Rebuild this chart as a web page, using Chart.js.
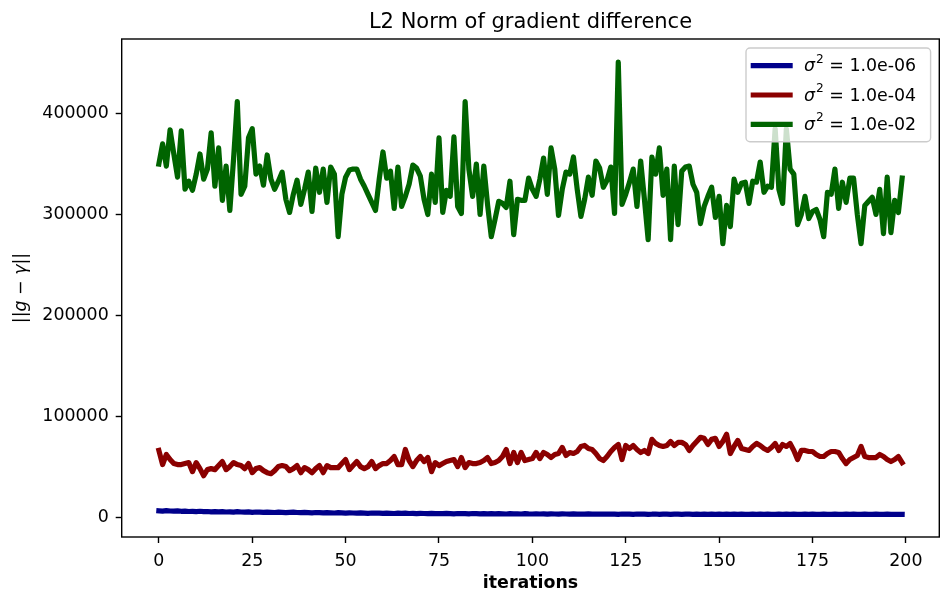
<!DOCTYPE html>
<html>
<head>
<meta charset="utf-8">
<script src="https://cdn.jsdelivr.net/npm/chart.js@4.4.1/dist/chart.umd.min.js"></script>
<style>
  html, body { margin: 0; padding: 0; background: #fff; }
  #wrap { width: 941px; height: 597px; }
</style>
</head>
<body>
<div id="wrap"><canvas id="grafica" width="941" height="597"></canvas></div>
<script>
// Datos (200 iteraciones, 0..199)
const titulo = 'L2 Norm of gradient difference';
const xTicks = [0, 25, 50, 75, 100, 125, 150, 175, 200];
const yTicks = [0, 100000, 200000, 300000, 400000];
const etiquetasLeyenda = ['1.0e-06', '1.0e-04', '1.0e-02'];

const sigma6 = [
    6200, 5900, 6400, 6000, 5800, 6100, 5700, 5900, 5500, 5600,
    5400, 5700, 5300, 5500, 5200, 5400, 5100, 5300, 5000, 5200,
    4900, 5300, 5000, 4800, 5100, 4700, 5000, 4800, 4600, 4900,
    4700, 4500, 4800, 4600, 4400, 4700, 4900, 4500, 4300, 4600,
    4400, 4200, 4500, 4300, 4100, 4400, 4200, 4000, 4300, 4100,
    3900, 4200, 4000, 3800, 4100, 3900, 3700, 4000, 3800, 3900,
    3600, 3900, 3700, 3500, 3800, 3600, 3800, 3500, 3700, 3400,
    3600, 3500, 3300, 3600, 3400, 3500, 3300, 3600, 3400, 3200,
    3500, 3300, 3400, 3200, 3500, 3300, 3100, 3400, 3200, 3300,
    3100, 3400, 3200, 3000, 3300, 3100, 3200, 3000, 3300, 3100,
    3000, 3200, 3000, 3100, 2900, 3200, 3000, 2900, 3100, 3000,
    2800, 3100, 2900, 3000, 2800, 3100, 2900, 2800, 3000, 2900,
    2800, 3000, 2900, 2700, 3000, 2800, 2900, 2700, 3000, 2800,
    2900, 2700, 2800, 3000, 2700, 2900, 2800, 2700, 2900, 2800,
    2700, 2900, 2800, 2600, 2900, 2700, 2800, 2600, 2900, 2700,
    2800, 2600, 2800, 2700, 2900, 2600, 2800, 2700, 2600, 2800,
    2700, 2900, 2600, 2800, 2700, 2600, 2800, 2700, 2900, 2600,
    2800, 2700, 2600, 2800, 2700, 2900, 2600, 2700, 2800, 2600,
    2700, 2800, 2600, 2700, 2900, 2600, 2800, 2700, 2600, 2800,
    2700, 2600, 2800, 2700, 2650, 2800, 2600, 2700, 2750, 2650
];

const sigma4 = [
    66000, 52000, 62000, 57000, 53000, 52000, 52000, 53000, 54000, 45000,
    54000, 48000, 41000, 47000, 48000, 47000, 51000, 55000, 47000, 50000,
    54000, 52000, 51000, 48000, 53000, 44000, 48000, 49000, 46000, 44000,
    43000, 46000, 50000, 51000, 50000, 46000, 48000, 51000, 44000, 49000,
    47000, 44000, 48000, 51000, 44000, 51000, 49000, 49000, 49000, 53000,
    57000, 47000, 51000, 55000, 50000, 48000, 50000, 55000, 48000, 51000,
    53000, 53000, 56000, 60000, 52000, 52000, 67000, 56000, 50000, 56000,
    60000, 55000, 59000, 45000, 54000, 51000, 53000, 55000, 56000, 57000,
    50000, 59000, 49000, 54000, 53000, 53000, 54000, 56000, 59000, 53000,
    54000, 56000, 60000, 67000, 53000, 64000, 54000, 64000, 56000, 57000,
    58000, 64000, 58000, 64000, 62000, 59000, 62000, 63000, 69000, 61000,
    64000, 63000, 65000, 70000, 71000, 68000, 67000, 63000, 58000, 56000,
    60000, 65000, 69000, 72000, 57000, 71000, 68000, 71000, 67000, 64000,
    66000, 63000, 77000, 73000, 71000, 70000, 71000, 75000, 71000, 74000,
    74000, 72000, 66000, 71000, 75000, 79000, 78000, 72000, 77000, 78000,
    70000, 75000, 82000, 63000, 70000, 76000, 68000, 67000, 66000, 70000,
    73000, 71000, 68000, 66000, 69000, 73000, 66000, 72000, 70000, 73000,
    66000, 57000, 66000, 66000, 65000, 65000, 62000, 60000, 60000, 63000,
    65000, 65000, 64000, 58000, 53000, 57000, 59000, 61000, 70000, 60000,
    59000, 59000, 59000, 62000, 60000, 57000, 55000, 57000, 60000, 54000
];

const sigma2 = [
    350000, 370000, 348000, 384000, 360000, 337000, 383000, 325000, 333000, 324000,
    340000, 360000, 335000, 345000, 381000, 328000, 366000, 314000, 348000, 304000,
    355000, 412000, 320000, 328000, 376000, 385000, 340000, 348000, 329000, 359000,
    335000, 325000, 333000, 342000, 315000, 302000, 320000, 334000, 310000, 325000,
    342000, 303000, 346000, 322000, 345000, 312000, 347000, 340000, 278000, 320000,
    337000, 344000, 345000, 345000, 335000, 328000, 320000, 312000, 304000, 335000,
    362000, 336000, 343000, 306000, 347000, 308000, 318000, 330000, 349000, 346000,
    338000, 315000, 300000, 340000, 312000, 376000, 302000, 324000, 318000, 377000,
    308000, 301000, 412000, 345000, 318000, 350000, 300000, 348000, 310000, 278000,
    295000, 313000, 311000, 307000, 333000, 280000, 315000, 314000, 314000, 336000,
    325000, 318000, 335000, 356000, 320000, 366000, 345000, 299000, 325000, 342000,
    340000, 357000, 325000, 298000, 315000, 337000, 319000, 353000, 346000, 327000,
    334000, 347000, 301000, 451000, 310000, 320000, 332000, 345000, 308000, 353000,
    315000, 275000, 357000, 340000, 366000, 319000, 345000, 275000, 348000, 290000,
    343000, 347000, 348000, 330000, 322000, 291000, 308000, 318000, 327000, 297000,
    318000, 271000, 309000, 288000, 335000, 322000, 331000, 332000, 311000, 333000,
    332000, 352000, 322000, 328000, 327000, 385000, 325000, 311000, 385000, 345000,
    340000, 290000, 300000, 318000, 296000, 303000, 305000, 295000, 278000, 322000,
    320000, 345000, 306000, 332000, 312000, 336000, 336000, 300000, 271000, 309000,
    313000, 317000, 300000, 325000, 281000, 337000, 282000, 314000, 302000, 336000
];

const iteraciones = Array.from({ length: sigma2.length }, (_, i) => i);

const colores = ['#00008b', '#8b0000', '#006400'];
const FUENTE = '"DejaVu Sans", sans-serif';

// Título, etiquetas de ejes, marco y leyenda al estilo matplotlib
const decorado = {
    id: 'decorado',
    afterDraw(chart) {
        const { ctx, chartArea: a } = chart;
        const cx = (a.left + a.right) / 2;
        ctx.save();

        // marco
        ctx.strokeStyle = '#000';
        ctx.lineWidth = 1.4;
        ctx.strokeRect(a.left, a.top, a.right - a.left, a.bottom - a.top);

        ctx.fillStyle = '#000';
        ctx.textAlign = 'center';
        ctx.textBaseline = 'alphabetic';
        ctx.font = '21px ' + FUENTE;
        ctx.fillText(titulo, cx, 28);

        ctx.font = 'bold 17.4px ' + FUENTE;
        ctx.fillText('iterations', cx, 588);

        // eje y: ||g − γ||
        const partes = [
            ['||', ''], ['g', 'italic '], [' \u2212 ', ''], ['\u03b3', 'italic '], ['||', '']
        ];
        let total = 0;
        partes.forEach(p => { ctx.font = p[1] + '17.4px ' + FUENTE; total += ctx.measureText(p[0]).width; });
        ctx.translate(26, (a.top + a.bottom) / 2);
        ctx.rotate(-Math.PI / 2);
        ctx.textAlign = 'left';
        let px = -total / 2;
        partes.forEach(p => {
            ctx.font = p[1] + '17.4px ' + FUENTE;
            ctx.fillText(p[0], px, 0);
            px += ctx.measureText(p[0]).width;
        });
        ctx.setTransform(1, 0, 0, 1, 0, 0);

        // leyenda
        const lx = 746, ly = 48, lw = 184.6, lh = 93.7;
        ctx.beginPath();
        ctx.roundRect(lx, ly, lw, lh, 4);
        ctx.fillStyle = 'rgba(255,255,255,0.8)';
        ctx.fill();
        ctx.strokeStyle = '#cccccc';
        ctx.lineWidth = 1.4;
        ctx.stroke();

        const filas = [65.7, 95, 124.3];
        etiquetasLeyenda.forEach((txt, i) => {
            const y = filas[i];
            ctx.beginPath();
            ctx.strokeStyle = colores[i];
            ctx.lineWidth = 5.2;
            ctx.lineCap = 'butt';
            ctx.moveTo(750.7, y);
            ctx.lineTo(792.7, y);
            ctx.stroke();

            ctx.fillStyle = '#000';
            ctx.textBaseline = 'middle';
            ctx.textAlign = 'left';
            let tx = 804;
            ctx.font = 'italic 17.4px ' + FUENTE;
            ctx.fillText('\u03c3', tx, y + 1);
            tx += ctx.measureText('\u03c3').width + 1;
            ctx.font = '12.2px ' + FUENTE;
            ctx.fillText('2', tx, y - 6);
            tx += ctx.measureText('2').width;
            ctx.font = '17.4px ' + FUENTE;
            ctx.fillText(' = ' + txt, tx, y + 1);
        });
        ctx.restore();
    }
};

const ctx = document.getElementById('grafica').getContext('2d');
new Chart(ctx, {
    type: 'line',
    data: {
        labels: iteraciones,
        datasets: [sigma6, sigma4, sigma2].map((serie, i) => ({
            label: '\u03c3\u00b2 = ' + etiquetasLeyenda[i],
            data: serie,
            borderColor: colores[i],
            backgroundColor: colores[i],
            borderWidth: 5.2,
            borderCapStyle: 'square',
            borderJoinStyle: 'round',
            pointRadius: 0,
            tension: 0,
            order: 2 - i
        }))
    },
    options: {
        responsive: false,
        animation: false,
        events: [],
        layout: { padding: { left: 0, right: 1.7, top: 39, bottom: 0 } },
        plugins: {
            legend: { display: false },
            title: { display: false },
            tooltip: { enabled: false }
        },
        scales: {
            x: {
                type: 'linear',
                min: -9.95,
                max: 208.95,
                afterBuildTicks: s => { s.ticks = xTicks.map(v => ({ value: v })); },
                afterFit: s => { s.height = 60; },
                grid: { drawOnChartArea: false, drawTicks: true, tickLength: 6, tickWidth: 1.4, tickColor: '#000' },
                border: { display: false },
                ticks: { color: '#000', padding: 8, maxRotation: 0, font: { family: 'DejaVu Sans', size: 17.4 } }
            },
            y: {
                min: -19800,
                max: 474000,
                afterBuildTicks: s => { s.ticks = yTicks.map(v => ({ value: v })); },
                afterFit: s => { s.width = 121.7; },
                grid: { drawOnChartArea: false, drawTicks: true, tickLength: 6, tickWidth: 1.4, tickColor: '#000' },
                border: { display: false },
                ticks: { color: '#000', padding: 7, callback: v => String(v), font: { family: 'DejaVu Sans', size: 17.4 } }
            }
        }
    },
    plugins: [decorado]
});
</script>
</body>
</html>
